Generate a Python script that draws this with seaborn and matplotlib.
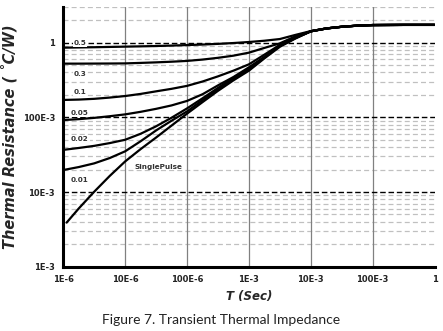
import numpy as np
import pandas as pd
import matplotlib
matplotlib.use("Agg")
import matplotlib.pyplot as plt
import seaborn as sns
from matplotlib.ticker import FixedLocator, NullFormatter

# ---- data ----
times = [1e-6, 1.78e-6, 3.16e-6, 5.62e-6, 1e-5, 1.78e-5, 3.16e-5, 5.62e-5,
         1e-4, 1.78e-4, 3.16e-4, 5.62e-4, 1e-3, 1.78e-3, 3.16e-3, 5.62e-3,
         1e-2, 1.78e-2, 3.16e-2, 5.62e-2, 1e-1, 3.16e-1, 1.0]
times_single = [1.13e-6] + times[1:]

z_d050 = [0.857, 0.863, 0.869, 0.877, 0.885, 0.893, 0.902, 0.914, 0.929, 0.944, 0.964, 0.989,
          1.021, 1.062, 1.119, 1.27, 1.43, 1.55, 1.633, 1.69, 1.722, 1.73, 1.73]
z_d030 = [0.524, 0.524, 0.525, 0.526, 0.528, 0.536, 0.545, 0.556, 0.570, 0.594, 0.627, 0.670,
          0.735, 0.851, 0.980, 1.216, 1.42, 1.55, 1.633, 1.69, 1.722, 1.73, 1.73]
z_d010 = [0.171, 0.173, 0.177, 0.184, 0.193, 0.206, 0.223, 0.241, 0.264, 0.302, 0.354, 0.422,
          0.513, 0.692, 0.935, 1.189, 1.42, 1.55, 1.633, 1.69, 1.722, 1.73, 1.73]
z_d005 = [0.092, 0.0946, 0.0984, 0.1035, 0.1096, 0.1186, 0.130, 0.1445, 0.166, 0.204, 0.268, 0.347,
          0.468, 0.646, 0.920, 1.175, 1.42, 1.55, 1.633, 1.69, 1.722, 1.73, 1.73]
z_d002 = [0.0367, 0.0389, 0.0415, 0.0452, 0.0501, 0.0603, 0.0759, 0.0989, 0.1318, 0.180, 0.248, 0.339,
          0.452, 0.638, 0.912, 1.161, 1.42, 1.55, 1.633, 1.69, 1.722, 1.73, 1.73]
z_d001 = [0.0197, 0.0216, 0.0242, 0.0285, 0.0351, 0.0479, 0.0668, 0.0902, 0.1202, 0.170, 0.237, 0.324,
          0.437, 0.631, 0.902, 1.148, 1.42, 1.55, 1.633, 1.69, 1.722, 1.73, 1.73]
z_single = [0.00389, 0.00603, 0.0101, 0.0164, 0.0257, 0.0376, 0.0537, 0.0776, 0.1122, 0.160, 0.2265, 0.313,
            0.422, 0.617, 0.881, 1.135, 1.42, 1.55, 1.633, 1.69, 1.722, 1.73, 1.73]

series_names = ["0.5", "0.3", "0.1", "0.05", "0.02", "0.01", "SinglePulse"]
series_values = [z_d050, z_d030, z_d010, z_d005, z_d002, z_d001, z_single]
series_times = [times] * 6 + [times_single]

x_ticks = [1e-6, 1e-5, 1e-4, 1e-3, 1e-2, 1e-1, 1.0]
x_tick_labels = ["1E-6", "10E-6", "100E-6", "1E-3", "10E-3", "100E-3", "1"]
y_ticks = [1e-3, 1e-2, 1e-1, 1.0]
y_tick_labels = ["1E-3", "10E-3", "100E-3", "1"]

rows = []
for name, ts, zs in zip(series_names, series_times, series_values):
    for t, z in zip(ts, zs):
        rows.append({"T": t, "Z": z, "series": name})
df = pd.DataFrame(rows)

# ---- figure ----
sns.set_theme(style="white")
plt.rcParams["font.family"] = ["DejaVu Sans"]

fig = plt.figure(figsize=(4.43, 3.31), dpi=100)
ax = fig.add_axes([0.1429, 0.1943, 0.981 - 0.1429, 0.980 - 0.1943])

ax.set_xscale("log")
ax.set_yscale("log")
ax.set_xlim(1e-6, 1.0)
ax.set_ylim(1e-3, 3.04)

# grid lines
minor_y = [m * 10.0 ** e for e in (-3, -2, -1, 0) for m in range(2, 10) if m * 10.0 ** e < 3.05]
for v in minor_y:
    ax.axhline(v, color="#c0c0c0", lw=0.9, ls=(0, (4, 2.5)), zorder=1)
for v in [1e-2, 1e-1, 1.0]:
    ax.axhline(v, color="black", lw=1.0, ls=(0, (4, 2)), zorder=1.5)
for v in x_ticks[1:-1]:
    ax.axvline(v, color="#808080", lw=0.9, zorder=1)

sns.lineplot(data=df, x="T", y="Z", hue="series", palette=["black"] * 7,
             estimator=None, sort=True, lw=1.6, legend=False, ax=ax, zorder=3)

# curve labels
label_pos = [("0.5", 1.86e-6, 1.0), ("0.3", 1.86e-6, 0.377), ("0.1", 1.86e-6, 0.218),
             ("0.05", 1.86e-6, 0.1156), ("0.02", 1.86e-6, 0.0519), ("0.01", 1.86e-6, 0.0145),
             ("SinglePulse", 3.4e-5, 0.0219)]
for txt, xp, yp in label_pos:
    ax.text(xp, yp, txt, fontsize=5.2, fontweight="bold", color="#333333",
            ha="center", va="center", zorder=4,
            bbox=dict(facecolor="white", edgecolor="none", pad=0.6))

ax.xaxis.set_major_locator(FixedLocator(x_ticks))
ax.set_xticklabels(x_tick_labels)
ax.yaxis.set_major_locator(FixedLocator(y_ticks))
ax.set_yticklabels(y_tick_labels)
ax.xaxis.set_minor_formatter(NullFormatter())
ax.yaxis.set_minor_formatter(NullFormatter())
ax.tick_params(axis="both", which="minor", length=0)
ax.tick_params(axis="both", which="major", length=3, width=2, direction="out",
               labelsize=6, pad=3, color="black", labelcolor="#222222")
for lab in ax.get_xticklabels() + ax.get_yticklabels():
    lab.set_fontweight("bold")

for s in ["top", "right"]:
    ax.spines[s].set_visible(False)
for s in ["left", "bottom"]:
    ax.spines[s].set_linewidth(2.2)
    ax.spines[s].set_color("black")
    ax.spines[s].set_zorder(5)

ax.set_xlabel("T (Sec)", fontsize=8.5, fontweight="bold", fontstyle="italic", labelpad=4)
ax.set_ylabel("Thermal Resistance ( ˚C/W)", fontsize=10.5, fontweight="bold",
              fontstyle="italic", labelpad=4)

fig.text(0.5, 0.033, "Figure 7. Transient Thermal Impedance", ha="center", va="center",
         fontsize=10, family=["Lato", "DejaVu Sans"], color="#222222")

fig.savefig("out.png", dpi=100)
